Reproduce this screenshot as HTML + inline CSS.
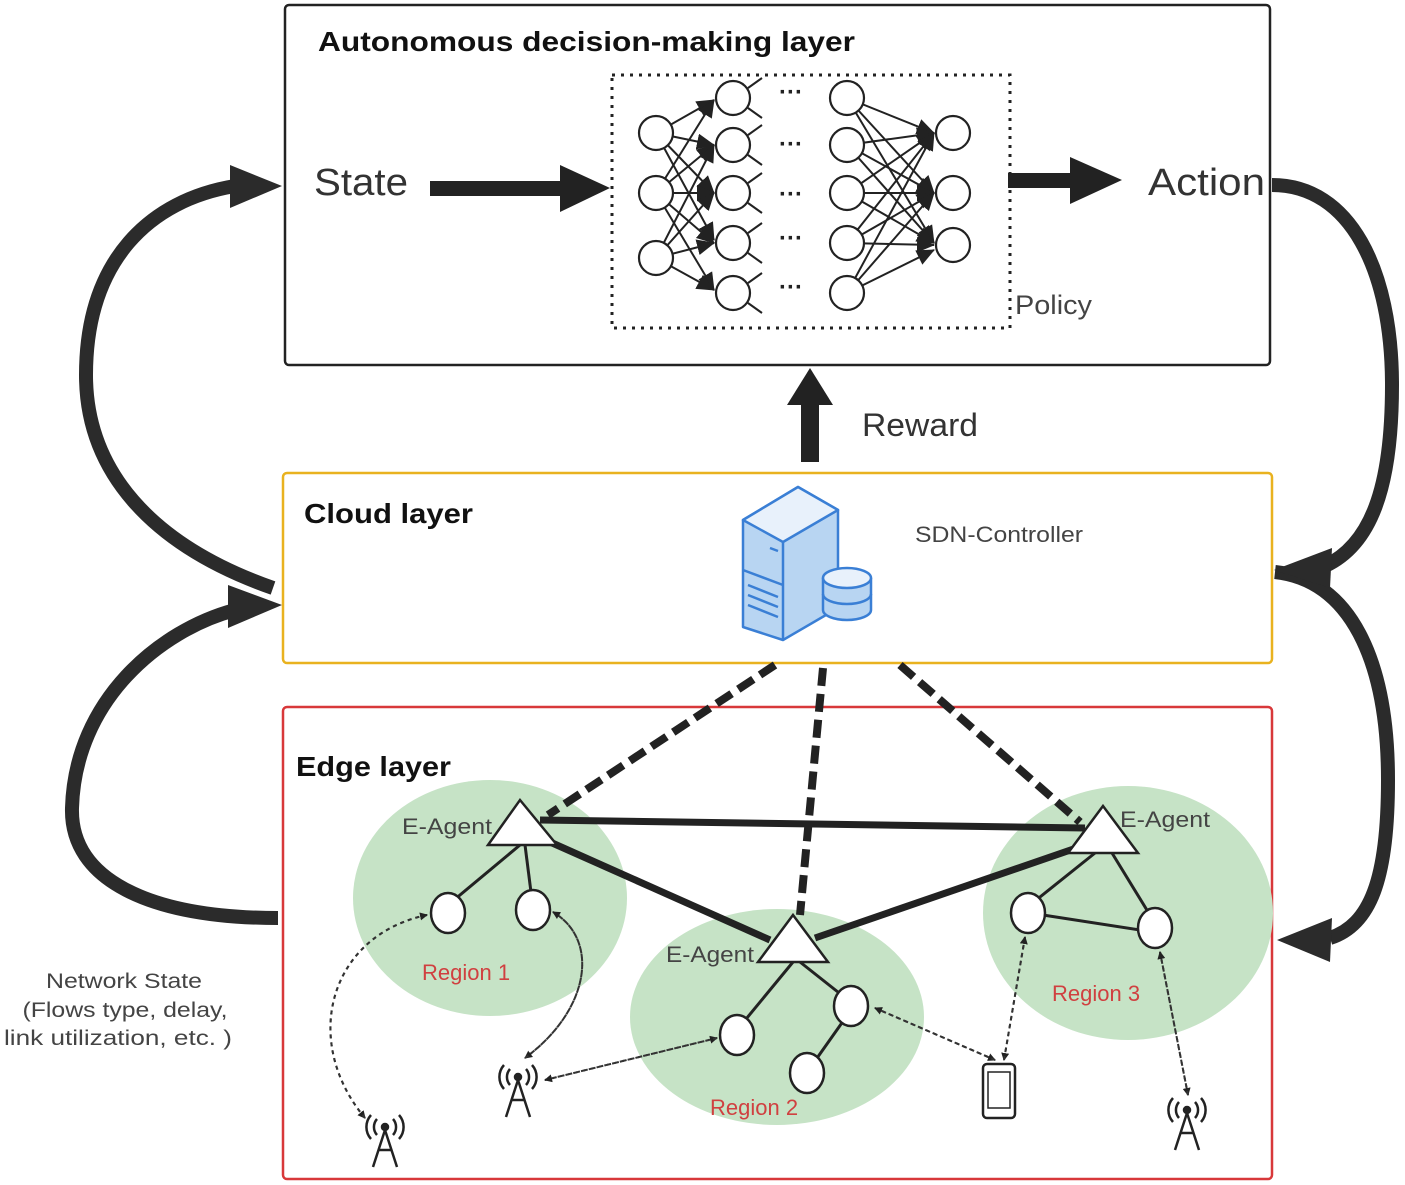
<!DOCTYPE html>
<html><head><meta charset="utf-8"><style>
html,body{margin:0;padding:0;background:#fff;}
svg{display:block;}
text{font-family:"Liberation Sans",sans-serif;}
</style></head><body>
<svg width="1405" height="1185" viewBox="0 0 1405 1185" xmlns="http://www.w3.org/2000/svg">
<defs>
<marker id="ah" markerWidth="8" markerHeight="8" refX="7" refY="4" orient="auto" markerUnits="userSpaceOnUse"><path d="M0,0 L8,4 L0,8 Z" fill="#222"/></marker>
<marker id="nh" markerWidth="18" markerHeight="16" refX="17" refY="8" orient="auto" markerUnits="userSpaceOnUse"><path d="M0,0 L18,8 L0,16 Z" fill="#222"/></marker>
</defs>

<!-- Top box -->
<rect x="285" y="5" width="985" height="360" rx="4" fill="#fff" stroke="#222" stroke-width="2.5"/>
<text x="318" y="51" font-size="28" font-weight="bold" fill="#111" textLength="537" lengthAdjust="spacingAndGlyphs">Autonomous decision-making layer</text>
<text x="314" y="195" font-size="38" fill="#333" textLength="94" lengthAdjust="spacingAndGlyphs">State</text>
<rect x="430" y="181" width="135" height="15" fill="#222"/>
<path d="M560,165 L610,188 L560,212 Z" fill="#222"/>
<rect x="612" y="75" width="398" height="253" fill="none" stroke="#222" stroke-width="3" stroke-dasharray="3,6"/>
<rect x="1008" y="173" width="70" height="15" fill="#222"/>
<path d="M1070,157 L1122,180 L1070,204 Z" fill="#222"/>
<text x="1148" y="195" font-size="38" fill="#333" textLength="117" lengthAdjust="spacingAndGlyphs">Action</text>
<text x="1015" y="314" font-size="27" fill="#444" textLength="77" lengthAdjust="spacingAndGlyphs">Policy</text>

<!-- NN connections -->
<g stroke="#222" stroke-width="2" marker-end="url(#nh)">
<line x1="656" y1="133" x2="714" y2="100"/><line x1="656" y1="133" x2="714" y2="145"/><line x1="656" y1="133" x2="714" y2="193"/><line x1="656" y1="133" x2="714" y2="240"/>
<line x1="656" y1="193" x2="714" y2="100"/><line x1="656" y1="193" x2="714" y2="145"/><line x1="656" y1="193" x2="714" y2="193"/><line x1="656" y1="193" x2="714" y2="243"/><line x1="656" y1="193" x2="714" y2="290"/>
<line x1="656" y1="258" x2="714" y2="145"/><line x1="656" y1="258" x2="714" y2="193"/><line x1="656" y1="258" x2="714" y2="243"/><line x1="656" y1="258" x2="714" y2="290"/>
<line x1="847" y1="98" x2="934" y2="133"/><line x1="847" y1="98" x2="934" y2="193"/><line x1="847" y1="98" x2="934" y2="243"/>
<line x1="847" y1="145" x2="934" y2="133"/><line x1="847" y1="145" x2="934" y2="193"/><line x1="847" y1="145" x2="934" y2="243"/>
<line x1="847" y1="193" x2="934" y2="133"/><line x1="847" y1="193" x2="934" y2="193"/><line x1="847" y1="193" x2="934" y2="243"/>
<line x1="847" y1="243" x2="934" y2="133"/><line x1="847" y1="243" x2="934" y2="193"/><line x1="847" y1="243" x2="934" y2="245"/>
<line x1="847" y1="293" x2="934" y2="133"/><line x1="847" y1="293" x2="934" y2="193"/><line x1="847" y1="293" x2="934" y2="250"/>
</g>
<g stroke="#222" stroke-width="2" fill="none">
<path d="M748,88 L762,78 M748,108 L762,118 M748,135 L762,125 M748,155 L762,165 M748,183 L762,173 M748,203 L762,213 M748,233 L762,223 M748,253 L762,263 M748,283 L762,273 M748,303 L762,313"/>
</g>
<g fill="#fff" stroke="#222" stroke-width="2.2">
<circle cx="656" cy="133" r="17"/><circle cx="656" cy="193" r="17"/><circle cx="656" cy="258" r="17"/>
<circle cx="733" cy="98" r="17"/><circle cx="733" cy="145" r="17"/><circle cx="733" cy="193" r="17"/><circle cx="733" cy="243" r="17"/><circle cx="733" cy="293" r="17"/>
<circle cx="847" cy="98" r="17"/><circle cx="847" cy="145" r="17"/><circle cx="847" cy="193" r="17"/><circle cx="847" cy="243" r="17"/><circle cx="847" cy="293" r="17"/>
<circle cx="953" cy="133" r="17"/><circle cx="953" cy="193" r="17"/><circle cx="953" cy="245" r="17"/>
</g>
<g fill="#222" font-size="24" font-weight="bold">
<text x="779" y="100">···</text><text x="779" y="152">···</text><text x="779" y="202">···</text><text x="779" y="246">···</text><text x="779" y="295">···</text>
</g>

<!-- Reward -->
<rect x="801" y="400" width="18" height="62" fill="#222"/>
<path d="M787,405 L810,368 L833,405 Z" fill="#222"/>
<text x="862" y="436" font-size="32" fill="#333" textLength="116" lengthAdjust="spacingAndGlyphs">Reward</text>

<!-- Cloud box -->
<rect x="283" y="473" width="989" height="190" rx="4" fill="#fff" stroke="#e9b21f" stroke-width="2.5"/>
<text x="304" y="523" font-size="28" font-weight="bold" fill="#111" textLength="169" lengthAdjust="spacingAndGlyphs">Cloud layer</text>
<text x="915" y="542" font-size="22" fill="#444" textLength="168" lengthAdjust="spacingAndGlyphs">SDN-Controller</text>
<g stroke="#3a7fd5" stroke-width="2.5" stroke-linejoin="round">
<path d="M743,520 L798,487 L838,510 L838,608 L783,640 L743,627 Z" fill="#b8d5f2"/>
<path d="M743,520 L798,487 L838,510 L783,542 Z" fill="#e8f1fb"/>
<path d="M783,542 L783,640" fill="none"/>
<path d="M743,570 L783,585 M748,585 L778,597 M748,595 L778,607 M748,605 L778,617 M770,548 L778,551" fill="none"/>
<path d="M823,578 L823,610 A24,10 0 0 0 871,610 L871,578" fill="#b8d5f2"/>
<path d="M823,594 A24,10 0 0 0 871,594" fill="none"/>
<ellipse cx="847" cy="578" rx="24" ry="10" fill="#e8f1fb"/>
</g>

<!-- Edge box -->
<rect x="283" y="707" width="989" height="472" rx="4" fill="#fff" stroke="#d8383a" stroke-width="2.5"/>
<text x="296" y="776" font-size="28" font-weight="bold" fill="#111" textLength="155" lengthAdjust="spacingAndGlyphs">Edge layer</text>
<g fill="#c6e3c6">
<ellipse cx="490" cy="898" rx="137" ry="118"/>
<ellipse cx="777" cy="1017" rx="147" ry="108"/>
<ellipse cx="1128" cy="913" rx="145" ry="127"/>
</g>
<g stroke="#222" stroke-width="8" stroke-dasharray="18,8" fill="none">
<line x1="775" y1="665" x2="548" y2="815"/>
<line x1="823" y1="668" x2="800" y2="915"/>
<line x1="900" y1="665" x2="1080" y2="822"/>
</g>
<g stroke="#222" stroke-width="7" fill="none">
<line x1="540" y1="820" x2="1085" y2="828"/>
<line x1="550" y1="842" x2="770" y2="940"/>
<line x1="815" y1="938" x2="1085" y2="845"/>
</g>
<g stroke="#222" stroke-width="3" fill="none">
<line x1="520" y1="845" x2="448" y2="905"/><line x1="525" y1="845" x2="532" y2="900"/>
<line x1="793" y1="962" x2="737" y2="1030"/><line x1="800" y1="962" x2="848" y2="1000"/><line x1="851" y1="1010" x2="810" y2="1068"/>
<line x1="1095" y1="853" x2="1030" y2="905"/><line x1="1112" y1="853" x2="1153" y2="920"/><line x1="1030" y1="913" x2="1153" y2="932"/>
</g>
<g fill="#fff" stroke="#222" stroke-width="2.5">
<path d="M520,800 L557,845 L488,845 Z"/>
<path d="M793,915 L828,962 L758,962 Z"/>
<path d="M1103,806 L1138,853 L1068,853 Z"/>
<ellipse cx="448" cy="913" rx="17" ry="20"/><ellipse cx="533" cy="910" rx="17" ry="20"/>
<ellipse cx="737" cy="1035" rx="17" ry="20"/><ellipse cx="851" cy="1006" rx="17" ry="20"/><ellipse cx="807" cy="1073" rx="17" ry="20"/>
<ellipse cx="1028" cy="913" rx="17" ry="20"/><ellipse cx="1155" cy="928" rx="17" ry="20"/>
</g>
<g font-size="22" fill="#444">
<text x="402" y="834" textLength="90" lengthAdjust="spacingAndGlyphs">E-Agent</text>
<text x="666" y="962" textLength="88" lengthAdjust="spacingAndGlyphs">E-Agent</text>
<text x="1120" y="827" textLength="90" lengthAdjust="spacingAndGlyphs">E-Agent</text>
</g>
<g font-size="22" fill="#d04040">
<text x="422" y="980">Region 1</text>
<text x="710" y="1115">Region 2</text>
<text x="1052" y="1001">Region 3</text>
</g>
<g stroke="#333" stroke-width="2" stroke-dasharray="4,4" fill="none" marker-end="url(#ah)">
<path d="M427,915 C330,935 300,1040 365,1118"/>
<path d="M365,1118 C300,1040 330,935 427,915"/>
<path d="M553,912 C600,940 590,1010 525,1058"/>
<path d="M525,1058 C590,1010 600,940 553,912"/>
<line x1="545" y1="1080" x2="717" y2="1038"/>
<line x1="717" y1="1038" x2="545" y2="1080"/>
<line x1="875" y1="1008" x2="995" y2="1060"/>
<line x1="995" y1="1060" x2="875" y2="1008"/>
<line x1="1025" y1="937" x2="1004" y2="1060"/>
<line x1="1004" y1="1060" x2="1025" y2="937"/>
<line x1="1160" y1="952" x2="1188" y2="1095"/>
<line x1="1188" y1="1095" x2="1160" y2="952"/>
</g>
<g stroke="#222" stroke-width="2.5" fill="none">
<g transform="translate(385,1145)"><circle cx="0" cy="-18" r="3" fill="#222"/><path d="M-12,22 L0,-15 L12,22 M-6,5 L6,5 M-8,-26 A12,12 0 0 0 -8,-10 M8,-26 A12,12 0 0 1 8,-10 M-14,-30 A18,18 0 0 0 -14,-6 M14,-30 A18,18 0 0 1 14,-6"/></g>
<g transform="translate(518,1095)"><circle cx="0" cy="-18" r="3" fill="#222"/><path d="M-12,22 L0,-15 L12,22 M-6,5 L6,5 M-8,-26 A12,12 0 0 0 -8,-10 M8,-26 A12,12 0 0 1 8,-10 M-14,-30 A18,18 0 0 0 -14,-6 M14,-30 A18,18 0 0 1 14,-6"/></g>
<g transform="translate(1187,1128)"><circle cx="0" cy="-18" r="3" fill="#222"/><path d="M-12,22 L0,-15 L12,22 M-6,5 L6,5 M-8,-26 A12,12 0 0 0 -8,-10 M8,-26 A12,12 0 0 1 8,-10 M-14,-30 A18,18 0 0 0 -14,-6 M14,-30 A18,18 0 0 1 14,-6"/></g>
<rect x="983" y="1064" width="32" height="54" rx="4"/>
<rect x="988" y="1072" width="22" height="36" stroke-width="1.5"/>
</g>

<g stroke="#2b2b2b" stroke-width="14" fill="none">
<path d="M273,588 C150,545 86,470 86,375 C86,260 150,200 235,186"/>
<path d="M278,918 C150,918 70,880 72,808 C75,700 160,630 235,610"/>
<path d="M1272,185 C1350,185 1392,270 1392,385 C1392,490 1370,545 1325,566"/>
<path d="M1275,572 C1350,580 1388,660 1388,780 C1388,880 1370,925 1330,938"/>
</g>
<g fill="#2b2b2b">
<path d="M230,165 L282,186 L230,208 Z"/>
<path d="M228,585 L282,605 L228,628 Z"/>
<path d="M1332,548 L1274,570 L1330,588 Z"/>
<path d="M1332,918 L1277,940 L1330,962 Z"/>
</g>

<g font-size="21" fill="#444" text-anchor="middle">
<text x="124" y="988" textLength="156" lengthAdjust="spacingAndGlyphs">Network State</text>
<text x="125" y="1017" textLength="205" lengthAdjust="spacingAndGlyphs">(Flows type, delay,</text>
<text x="118" y="1045" textLength="228" lengthAdjust="spacingAndGlyphs">link utilization, etc. )</text>
</g>
</svg>
</body></html>
